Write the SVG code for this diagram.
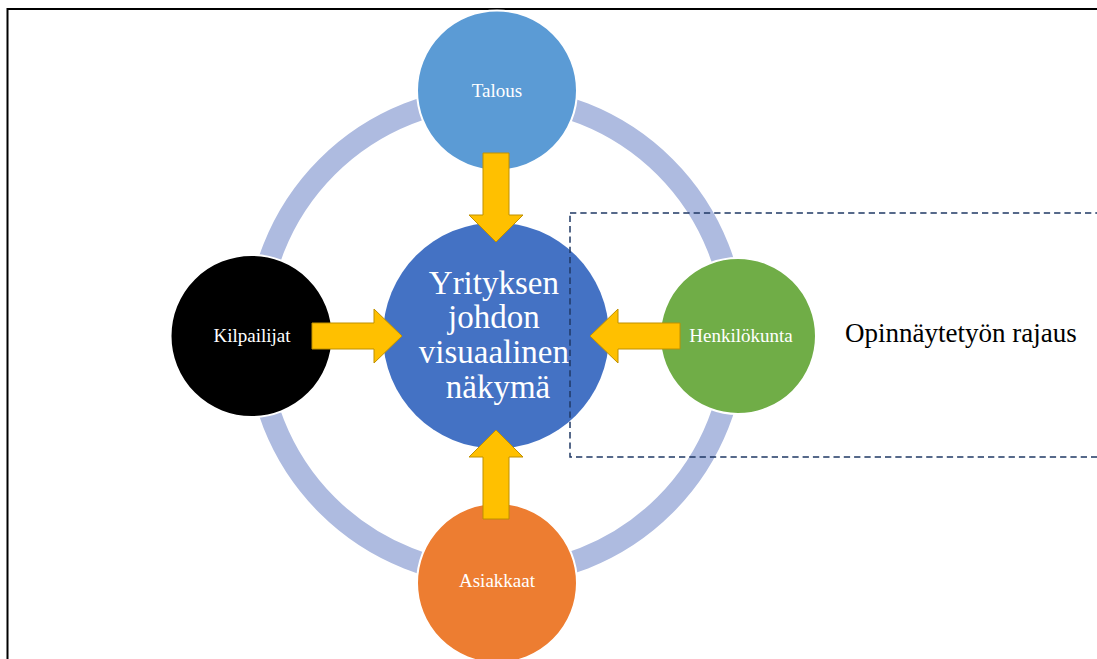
<svg xmlns="http://www.w3.org/2000/svg" width="1097" height="659" viewBox="0 0 1097 659">
  <defs>
    <style>
      .node { stroke: #ffffff; stroke-width: 2; }
      .label { font-family: "Liberation Serif", "Times New Roman", serif; fill: #ffffff; text-anchor: middle; font-size: 19px; }
      .arrow { fill: #FFC000; stroke: #BF9000; stroke-width: 1; stroke-linejoin: miter; }
    </style>
  </defs>
  <rect x="0" y="0" width="1097" height="659" fill="#ffffff"/>
  <!-- outer frame -->
  <rect x="7.5" y="9" width="1200" height="800" fill="none" stroke="#000000" stroke-width="2"/>

  <!-- connecting ring -->
  <g id="ring">
    <circle cx="496" cy="336" r="239" fill="none" stroke="#AEBBE0" stroke-width="22"/>
  </g>

  <g id="talous">
    <circle class="node" cx="497" cy="90.5" r="80" fill="#5B9BD5"/>
    <text class="label" x="497" y="97">Talous</text>
  </g>
  <g id="kilpailijat">
    <circle class="node" cx="251.5" cy="336" r="81" fill="#000000"/>
    <text class="label" x="252" y="342">Kilpailijat</text>
  </g>
  <g id="henkilokunta">
    <circle class="node" cx="738" cy="336" r="78" fill="#70AD47"/>
    <text class="label" x="741" y="342">Henkilökunta</text>
  </g>
  <g id="asiakkaat">
    <circle class="node" cx="497" cy="583" r="80" fill="#ED7D31"/>
    <text class="label" x="497" y="587">Asiakkaat</text>
  </g>

  <g id="center">
    <circle cx="496" cy="335.5" r="113" fill="#4472C4"/>
    <text font-family="'Liberation Serif', 'Times New Roman', serif" font-size="33" fill="#ffffff" text-anchor="middle">
      <tspan x="498" y="294">Yrityksen</tspan>
      <tspan x="498" y="328">johdon</tspan>
      <tspan x="498" y="363">visuaalinen</tspan>
      <tspan x="498" y="398">näkymä</tspan>
    </text>
  </g>

  <!-- block arrows pointing to the centre -->
  <g id="connectors">
    <polygon class="arrow" points="483,153 509,153 509,215 523,215 496,242 469,215 483,215"/>
    <polygon class="arrow" points="483,519 509,519 509,457 523,457 496,430 469,457 483,457"/>
    <polygon class="arrow" points="312,323 374,323 374,309 402,336 374,363 374,349 312,349"/>
    <polygon class="arrow" points="680,323 618,323 618,309 590,336 618,363 618,349 680,349"/>
  </g>

  <!-- scope boundary -->
  <g id="rajaus">
    <rect x="570" y="213" width="600" height="244" fill="none" stroke="#1F3864" stroke-width="1.5" stroke-dasharray="6.3 4"/>
    <text x="845" y="342" font-family="'Liberation Serif', 'Times New Roman', serif" font-size="27" fill="#000000">Opinnäytetyön rajaus</text>
  </g>
</svg>
